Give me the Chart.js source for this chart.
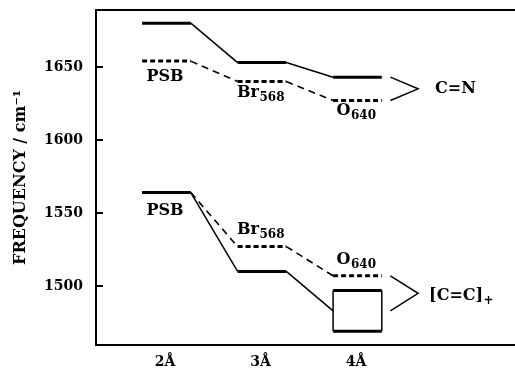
<!DOCTYPE html>
<html lang="en">
<head>
  <meta charset="UTF-8">
  <title>Frequency vs distance</title>
  <style>
    html, body { margin: 0; padding: 0; background: #fff; }
    .freq-chart { display: block; width: 515px; height: 372px; }
  </style>
</head>
<body>
  <canvas id="freq-chart" class="freq-chart" width="515" height="372"></canvas>
  <script src="https://cdn.jsdelivr.net/npm/chart.js"></script>
  <script>
// distance (Å) where each level sits, and the axis ticks
const distances = [2, 3, 4];
const xTicks = [2, 3, 4];
const yTicks = [1500, 1550, 1600, 1650];

// C=N band: solid and dashed traces
const cnSolid = [1680, 1653, 1643];
const cnDashed = [1654, 1640, 1627];
// [C=C]+ band: the solid trace ends in a box at 4Å
const ccSolid = [1564, 1510];
const ccDashed = [1564, 1527, 1507];
const ccBox = [1469, 1497];

// names written under / over the dashed levels
const siteNames = ['PSB', 'Br', 'O'];
const siteSubs = ['', '568', '640'];

const SERIF = "'DejaVu Serif', serif";
const LEFT = 0.24, RIGHT = 0.27;   // each level is a short flat step

function steps(values) {
  const pts = [];
  values.forEach((v, i) => {
    pts.push({x: distances[i] - LEFT, y: v});
    pts.push({x: distances[i] + RIGHT, y: v});
  });
  return pts;
}

const boxMid = (ccBox[0] + ccBox[1]) / 2;
const boxPts = [
  {x: distances[2] - LEFT, y: ccBox[1]},
  {x: distances[2] + RIGHT, y: ccBox[1]},
  {x: distances[2] + RIGHT, y: ccBox[0]},
  {x: distances[2] - LEFT, y: ccBox[0]},
  {x: distances[2] - LEFT, y: ccBox[1]}
];

// ">" bracket joining two values at the right
function bracket(top, bottom) {
  return [
    {x: 4.36, y: top},
    {x: 4.65, y: (top + bottom) / 2},
    {x: 4.36, y: bottom}
  ];
}

const flat = c => c.p0.parsed.y === c.p1.parsed.y;

function solid(data) {
  return {
    data, borderColor: '#000', pointRadius: 0, fill: false,
    segment: { borderWidth: c => flat(c) ? 3 : 1.5 }
  };
}
function dashed(data) {
  return {
    data, borderColor: '#000', pointRadius: 0, fill: false,
    segment: {
      borderWidth: c => flat(c) ? 3 : 1.6,
      borderDash: c => flat(c) ? [5, 3] : [7, 5]
    }
  };
}

const datasets = [
  solid(steps(cnSolid)),
  dashed(steps(cnDashed)),
  solid(steps(ccSolid).concat([{x: distances[2] - LEFT, y: boxMid}])),
  dashed(steps(ccDashed)),
  solid(boxPts),
  { data: bracket(cnSolid[2], cnDashed[2]), borderColor: '#000', borderWidth: 1.5, pointRadius: 0 },
  { data: bracket(ccDashed[2], boxMid), borderColor: '#000', borderWidth: 1.5, pointRadius: 0 }
];

// text next to the levels: [name, subscript, x, value, pixel offset]
const notes = [
  [siteNames[0], siteSubs[0], distances[0], cnDashed[0], 16],
  [siteNames[1], siteSubs[1], distances[1], cnDashed[1], 11],
  [siteNames[2], siteSubs[2], distances[2], cnDashed[2], 10],
  [siteNames[0], siteSubs[0], distances[0], ccDashed[0], 18],
  [siteNames[1], siteSubs[1], distances[1], ccDashed[1], -17],
  [siteNames[2], siteSubs[2], distances[2], ccDashed[2], -16]
];

function writeLabel(ctx, text, sub, px, py, alignLeft) {
  ctx.font = 'bold 16px ' + SERIF;
  const w1 = ctx.measureText(text).width;
  ctx.font = 'bold 12px ' + SERIF;
  const w2 = sub ? ctx.measureText(sub).width : 0;
  const x0 = alignLeft ? px : px - (w1 + w2) / 2;
  ctx.textAlign = 'left';
  ctx.textBaseline = 'middle';
  ctx.font = 'bold 16px ' + SERIF;
  ctx.fillText(text, x0, py);
  if (sub) {
    ctx.font = 'bold 12px ' + SERIF;
    ctx.fillText(sub, x0 + w1 + 0.5, py + 5);
  }
}

const frame = {
  id: 'frame',
  afterDatasetsDraw(chart) {
    const {ctx, chartArea: a, scales: {x, y}} = chart;
    ctx.save();
    ctx.strokeStyle = '#000';
    ctx.lineWidth = 2;
    ctx.beginPath();
    ctx.moveTo(a.left - 1, a.top);
    ctx.lineTo(a.right, a.top);
    yTicks.forEach(v => {
      const py = Math.round(y.getPixelForValue(v));
      ctx.moveTo(a.left, py);
      ctx.lineTo(a.left + 7, py);
    });
    ctx.stroke();

    ctx.fillStyle = '#000';
    notes.forEach(n => {
      writeLabel(ctx, n[0], n[1], x.getPixelForValue(n[2]), y.getPixelForValue(n[3]) + n[4], false);
    });
    // band names beside the brackets
    const v1 = y.getPixelForValue((cnSolid[2] + cnDashed[2]) / 2);
    const v2 = y.getPixelForValue((ccDashed[2] + boxMid) / 2);
    writeLabel(ctx, 'C=N', '', x.getPixelForValue(4.65) + 17, v1, true);
    writeLabel(ctx, '[C=C]', '+', x.getPixelForValue(4.65) + 11, v2 + 3, true);
    ctx.restore();
  }
};

const tickFont = {family: SERIF, weight: 'bold', size: 14};

const config = {
  type: 'line',
  data: { datasets },
  options: {
    responsive: false,
    animation: false,
    layout: { padding: {top: 10, right: 0, bottom: 0, left: 0} },
    plugins: { legend: {display: false}, tooltip: {enabled: false} },
    scales: {
      x: {
        type: 'linear',
        min: 1.277,
        max: 5.665,
        afterBuildTicks: s => { s.ticks = xTicks.map(v => ({value: v})); },
        afterFit: s => { s.height = 27; s.paddingLeft = 0; s.paddingRight = 0; },
        grid: { display: false, drawTicks: false },
        border: { color: '#000', width: 2 },
        ticks: { callback: v => v + 'Å', font: tickFont, color: '#000', padding: 9, autoSkip: false, maxRotation: 0 }
      },
      y: {
        min: 1459.6,
        max: 1689,
        afterBuildTicks: s => { s.ticks = yTicks.map(v => ({value: v})); },
        // tick padding would otherwise push the plot top down
        afterFit: s => { s.width = 96; s.paddingTop = 0; s.paddingBottom = 0; },
        grid: { display: false, drawTicks: false },
        border: { color: '#000', width: 2 },
        ticks: { callback: v => String(v), font: tickFont, color: '#000', padding: 13 },
        title: {
          display: true,
          text: 'FREQUENCY / cm⁻¹',
          color: '#000',
          font: {family: SERIF, weight: 'bold', size: 16},
          padding: {top: 11, bottom: 0}
        }
      }
    }
  },
  plugins: [frame]
};

new Chart(document.getElementById('freq-chart').getContext('2d'), config);
  </script>
</body>
</html>
